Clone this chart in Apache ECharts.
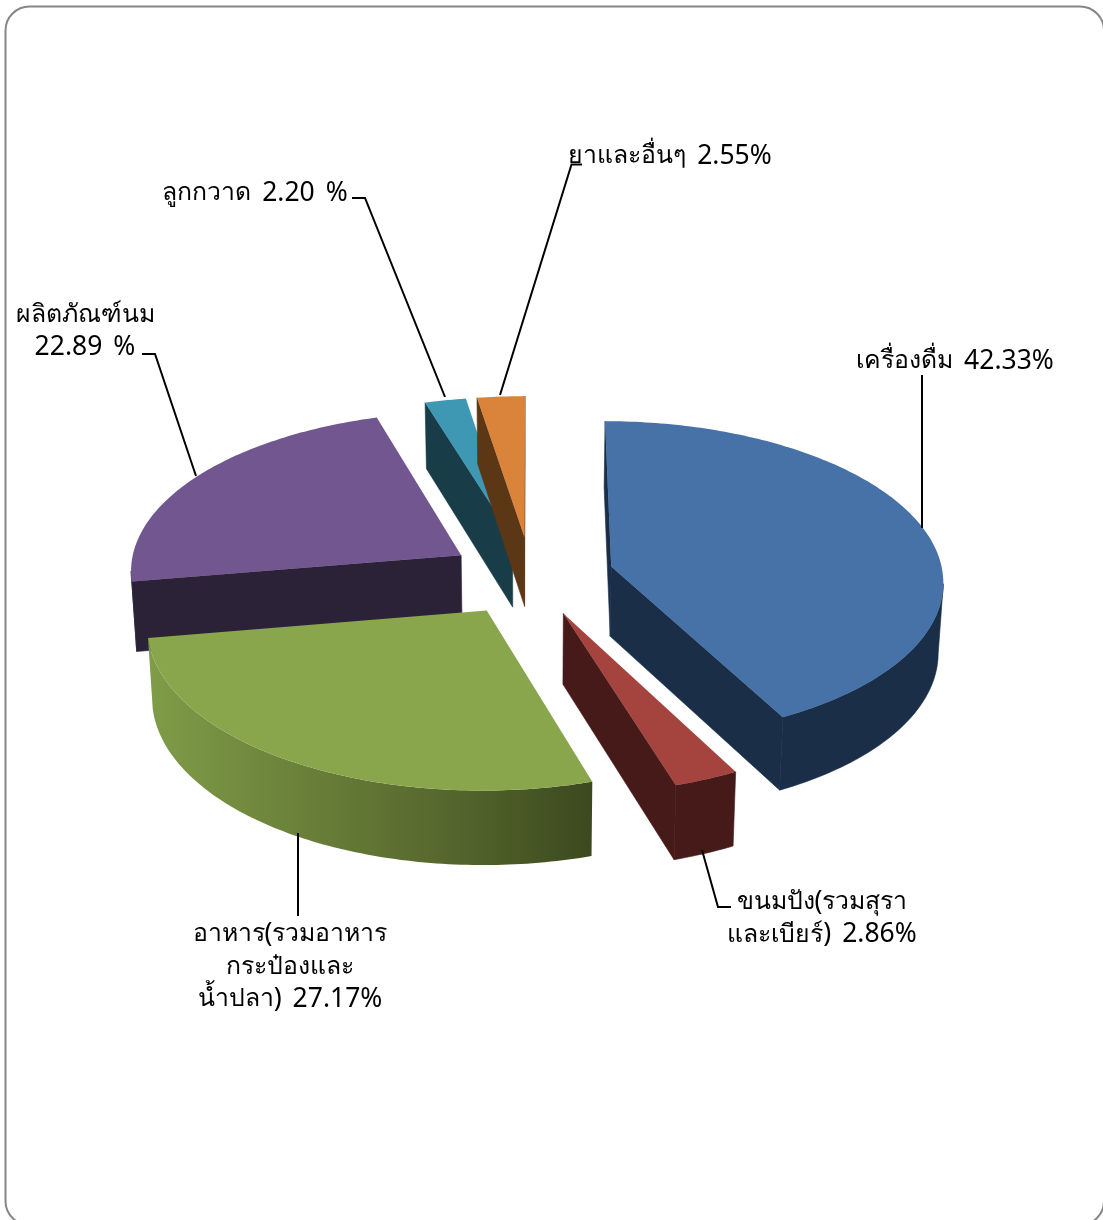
<!DOCTYPE html>
<html><head><meta charset="utf-8">
<style>html,body{margin:0;padding:0;background:#fff;overflow:hidden}#c{width:1103px;height:1220px;filter:blur(0.45px)}</style>
<script src="https://cdn.jsdelivr.net/npm/echarts@6/dist/echarts.min.js"></script>
</head><body><div id="c"></div>
<script>
// Data, clockwise from 12 o'clock
var categories = ['เครื่องดื่ม','ขนมปัง(รวมสุราและเบียร์)','อาหาร(รวมอาหารกระป๋องและน้ำปลา)','ผลิตภัณฑ์นม','ลูกกวาด','ยาและอื่นๆ'];
var shares = [42.33, 2.86, 27.17, 22.89, 2.20, 2.55];
var labelLines = [
  ['เครื่องดื่ม 42.33%'],
  ['ขนมปัง(รวมสุรา','และเบียร์) 2.86%'],
  ['อาหาร(รวมอาหาร','กระป๋องและ','น้ำปลา) 27.17%'],
  ['ผลิตภัณฑ์นม','22.89 %'],
  ['ลูกกวาด 2.20 %'],
  ['ยาและอื่นๆ 2.55%']
];
// Styles and layout
var topColors  = ['#4672A8','#A5433F','#8AA64C','#71568F','#3F98B3','#DA833A'];
var sideColors = ['#1A2E48','#461A19','#5C6E30','#2C2238','#183C48','#5C3715'];
var paintRank  = [3,5,4,2,0,1];
var greenWallStops = [[0,'#7F9C48'],[0.35,'#6A8039'],[0.65,'#57692E'],[1,'#3C4A1F']];
var labelCenters = [[955,361],[822,902],[290,934],[85,315],[255,193],[670,156]];
var leaders = [
  [[922,375],[922,528]],
  [[702,850],[718,907],[731,907]],
  [[298,833],[298,916]],
  [[142,354],[155,354],[196,476]],
  [[352,198],[365,198],[445,397]],
  [[582,164.5],[571.5,164.5],[500,395]]
];
var VIEW = {cx:531, cy:576, rx:332, ry:159, k:0.0834, depth:70, explode:0.25};

function project(X, Y, z) {
  var f = 1 / (1 + VIEW.k * Y);
  var x = VIEW.rx * X * f * (1 - 0.0125 * z);
  var y = -VIEW.ry * Y * f + z * VIEW.depth / (1 + 0.05 * Y);
  return [VIEW.cx + x, VIEW.cy + y];
}
var total = shares.reduce(function (a, b) { return a + b; }, 0);

function renderItem(params, api) {
  var i = params.dataIndex, before = 0;
  for (var n = 0; n < i; n++) before += shares[n];
  var t0 = before / total * 2 * Math.PI, t1 = (before + api.value(0)) / total * 2 * Math.PI;
  var tm = (t0 + t1) / 2;
  var ox = VIEW.explode * Math.sin(tm), oy = VIEW.explode * Math.cos(tm);
  var wallTop = [], wallBottom = [], steps = Math.max(8, Math.ceil((t1 - t0) * 60));
  for (var s = 0; s <= steps; s++) {
    var t = t0 + (t1 - t0) * s / steps;
    var X = ox + Math.sin(t), Y = oy + Math.cos(t);
    wallTop.push(project(X, Y, 0));
    wallBottom.push(project(X, Y, 1));
  }
  var a0 = project(ox, oy, 0), a1 = project(ox, oy, 1);
  var face = [a0].concat(wallTop);
  var z = paintRank[i] * 10;
  var sideFill = sideColors[i];
  if (i === 2) {
    sideFill = {type:'linear', global:true, x:150, y:0, x2:590, y2:0,
      colorStops: greenWallStops.map(function (c) { return {offset:c[0], color:c[1]}; })};
  }
  var kids = [];
  // outer wall: only the part of the rim that runs right-to-left on screen faces the viewer
  var from = -1, to = -1;
  for (var q = 0; q < steps; q++) {
    if (wallTop[q + 1][0] < wallTop[q][0]) { if (from < 0) from = q; to = q + 1; }
  }
  if (from >= 0) {
    var ft = wallTop.slice(from, to + 1), fb = wallBottom.slice(from, to + 1).reverse();
    kids.push({type:'polygon', z2:z, shape:{points:ft.concat(fb)}, style:{fill:sideFill, stroke:i === 2 ? null : sideFill, lineWidth:0.6}});
  }
  var first = wallTop[0], firstB = wallBottom[0], last = wallTop[steps], lastB = wallBottom[steps];
  var edge = {fill:sideColors[i], stroke:sideColors[i], lineWidth:0.6};
  if (first[0] < a0[0]) kids.push({type:'polygon', z2:z+1, shape:{points:[a0, first, firstB, a1]}, style:edge});
  if (last[0] > a0[0])  kids.push({type:'polygon', z2:z+1, shape:{points:[a0, last, lastB, a1]}, style:edge});
  kids.push({type:'polygon', z2:z+2, shape:{points:face}, style:{fill:topColors[i]}});
  return {type:'group', children:kids};
}

// Thai runs and Latin runs use slightly different sizes, with a wide word space
function richLine(line) {
  return line.split(' ').map(function (word) {
    return word.replace(/[\u0E00-\u0E7F]+|[^\u0E00-\u0E7F]+/g, function (run) {
      return (/[\u0E00-\u0E7F]/.test(run) ? '{t|' : '{n|') + run + '}';
    });
  }).join('{s| }');
}
var FONT = '"Noto Sans", Tahoma, "DejaVu Sans", sans-serif';
var RICH = {
  t:{font:'24.8px ' + FONT, fill:'#000', verticalAlign:'middle'},
  n:{font:'26.5px ' + FONT, fill:'#000', verticalAlign:'middle'},
  s:{font:'26.5px ' + FONT, fill:'#000', width:11, verticalAlign:'middle'}
};
var graphics = [{type:'rect', z:0, shape:{x:5.5, y:6.5, width:1098.5, height:1218.5, r:24},
  style:{fill:'#fff', stroke:'#868686', lineWidth:2}}];
labelLines.forEach(function (lines, i) {
  lines.forEach(function (line, j) {
    graphics.push({type:'text', z:20, x:labelCenters[i][0], y:labelCenters[i][1] + j * 32.5,
      style:{text:richLine(line), rich:RICH, fill:'#000', font:'26px ' + FONT,
             align:'center', verticalAlign:'middle', textAlign:'center', textVerticalAlign:'middle'}});
  });
  graphics.push({type:'polyline', z:20, shape:{points:leaders[i]}, style:{stroke:'#000', lineWidth:2, fill:null}});
});

var chart = echarts.init(document.getElementById('c'), null, {renderer:'canvas'});
chart.setOption({
  animation:false,
  graphic:{elements:graphics},
  series:[{type:'custom', coordinateSystem:'none', z:10, renderItem:renderItem, clip:false,
    data: shares.map(function (v, i) { return {name:categories[i], value:[v]}; })}]
});
</script></body></html>
